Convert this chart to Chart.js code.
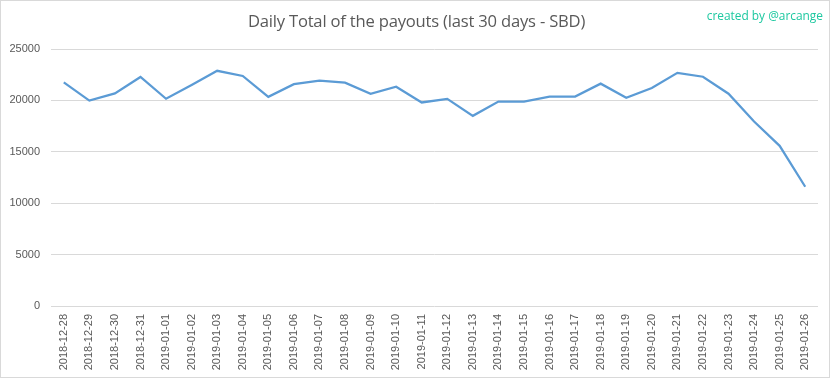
<!DOCTYPE html>
<html>
<head>
<meta charset="utf-8">
<script src="https://cdn.jsdelivr.net/npm/chart.js@4/dist/chart.umd.min.js"></script>
<style>
  html, body { margin: 0; padding: 0; background: #fff; }
  #wrap { position: relative; width: 833px; height: 379px; overflow: hidden; }
  #frame { position: absolute; left: 0; top: 0; width: 828px; height: 376px; border: 1px solid #d9d9d9; box-sizing: content-box; }
  #title { position: absolute; left: 0; width: 833px; top: 9px; text-align: center;
           font-family: "Open Sans", "Liberation Sans", sans-serif; font-size: 16.6px; color: #595959; letter-spacing: -0.2px; }
  #credit { position: absolute; right: 10px; top: 7px; font-family: "Open Sans", "Liberation Sans", sans-serif;
            font-size: 11.9px; color: #1dc8a0; }
  canvas { position: absolute; left: 0; top: 0; }
</style>
</head>
<body>
<div id="wrap">
  <div id="frame"></div>
  <canvas id="c" width="833" height="379"></canvas>
  <div id="title">Daily Total of the payouts (last 30 days - SBD)</div>
  <div id="credit">created by @arcange</div>
</div>
<script>
const categories = [
  "2018-12-28","2018-12-29","2018-12-30","2018-12-31",
  "2019-01-01","2019-01-02","2019-01-03","2019-01-04","2019-01-05","2019-01-06",
  "2019-01-07","2019-01-08","2019-01-09","2019-01-10","2019-01-11","2019-01-12",
  "2019-01-13","2019-01-14","2019-01-15","2019-01-16","2019-01-17","2019-01-18",
  "2019-01-19","2019-01-20","2019-01-21","2019-01-22","2019-01-23","2019-01-24",
  "2019-01-25","2019-01-26"
];
const payoutsSBD = [
  21750, 19980, 20680, 22280, 20160, 21500, 22880, 22380, 20350, 21580,
  21920, 21720, 20650, 21330, 19800, 20150, 18500, 19880, 19880, 20370,
  20370, 21630, 20250, 21200, 22680, 22300, 20650, 17950, 15580, 11600
];
const yTicks = { min: 0, max: 25000, step: 5000 };

const tickColor = "#595959";
const fontFam = "'Liberation Sans', Arial, sans-serif";

new Chart(document.getElementById("c"), {
  type: "line",
  data: {
    labels: categories,
    datasets: [{
      data: payoutsSBD,
      borderColor: "#5b9bd5",
      borderWidth: 2.25,
      pointRadius: 0,
      pointHoverRadius: 0,
      tension: 0,
      fill: false
    }]
  },
  options: {
    responsive: false,
    animation: false,
    layout: { padding: { top: 49, left: 0, right: 15, bottom: 0 } },
    plugins: { legend: { display: false }, title: { display: false }, tooltip: { enabled: false } },
    scales: {
      x: {
        offset: true,
        grid: { display: false, drawTicks: false },
        border: { display: false },
        ticks: { color: tickColor, font: { family: fontFam, size: 11 }, minRotation: 90, maxRotation: 90, padding: 8, autoSkip: false },
        afterFit: (s) => { s.height = 73; }
      },
      y: {
        min: yTicks.min, max: yTicks.max,
        grid: { color: "#d9d9d9", lineWidth: 1, drawTicks: false },
        border: { display: false },
        ticks: { stepSize: yTicks.step, color: tickColor, font: { family: fontFam, size: 11 }, padding: 11,
                 callback: (v) => String(v) },
        afterFit: (s) => { s.width = 51; }
      }
    }
  }
});
</script>
</body>
</html>
